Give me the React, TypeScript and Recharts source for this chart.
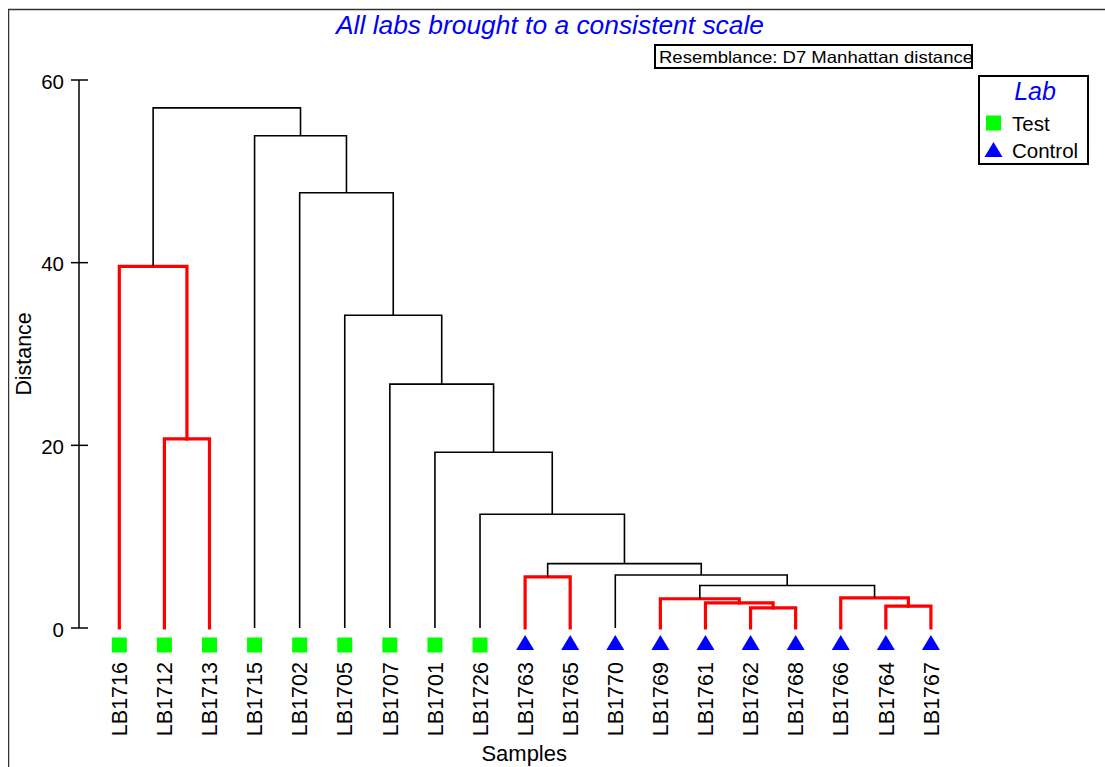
import React from 'react';
import { ComposedChart, Line, XAxis, YAxis, Legend } from 'recharts';

// ---- data ----
const leafLabels = ['LB1716', 'LB1712', 'LB1713', 'LB1715', 'LB1702', 'LB1705', 'LB1707', 'LB1701', 'LB1726', 'LB1763', 'LB1765', 'LB1770', 'LB1769', 'LB1761', 'LB1762', 'LB1768', 'LB1766', 'LB1764', 'LB1767'];
const leafLab = ['Test', 'Test', 'Test', 'Test', 'Test', 'Test', 'Test', 'Test', 'Test', 'Control', 'Control', 'Control', 'Control', 'Control', 'Control', 'Control', 'Control', 'Control', 'Control'];
// merges (node ids: leaves 0..18, then 19.. in merge order)
const mergeLeft = [14, 17, 13, 12, 16, 22, 9, 11, 25, 8, 7, 1, 6, 5, 0, 4, 3, 33];
const mergeRight = [15, 18, 19, 21, 20, 23, 10, 24, 26, 27, 28, 2, 29, 31, 30, 32, 34, 35];
const mergeHeight = [2.2, 2.4, 2.75, 3.2, 3.3, 4.65, 5.6, 5.8, 7.05, 12.45, 19.25, 20.7, 26.7, 34.25, 39.6, 47.65, 53.9, 56.95];
const mergeNotSignificant = [true, true, true, true, true, false, true, false, false, false, false, true, false, false, true, false, false, false];
const yTicks = [0, 20, 40, 60];
const legendLabels = ['Test', 'Control'];
const titleText = 'All labs brought to a consistent scale';
const resemblanceText = 'Resemblance: D7 Manhattan distance';

// ---- derived tree geometry (in data units) ----
const nodeX: number[] = leafLabels.map((_, i) => i);
const nodeH: number[] = leafLabels.map(() => 0);
mergeLeft.forEach((l, k) => {
  const r = mergeRight[k];
  nodeX.push((nodeX[l] + nodeX[r]) / 2);
  nodeH.push(mergeHeight[k]);
});
const links = mergeLeft.map((l, k) => {
  const r = mergeRight[k];
  const h = mergeHeight[k];
  return {
    id: k,
    red: mergeNotSignificant[k],
    data: [
      { x: nodeX[l], y: nodeH[l] },
      { x: nodeX[l], y: h },
      { x: nodeX[r], y: h },
      { x: nodeX[r], y: nodeH[r] },
    ],
  };
});
const leafTicks = leafLabels.map((_, i) => i);

const FONT = '"Liberation Sans", Arial, sans-serif';

const Marker = ({ cx, cy, lab }: { cx: number; cy: number; lab: string }) => {
  if (lab === 'Test') {
    return <rect x={cx - 7.5} y={cy - 7.5} width={15} height={15} fill="#00ff00" />;
  }
  return <polygon points={`${cx},${cy - 7.5} ${cx + 9},${cy + 7.5} ${cx - 9},${cy + 7.5}`} fill="#0000ff" />;
};

const renderLeafTick = (props: any) => {
  const { x, y, payload } = props;
  const i = payload.value as number;
  const lab = leafLab[i];
  return (
    <g>
      <Marker cx={x} cy={lab === 'Test' ? y + 17 : y + 14.5} lab={lab} />
      <text
        transform={`translate(${x + 7.7},${y + 34}) rotate(-90)`}
        textAnchor="end"
        fontFamily={FONT}
        fontSize={21.5}
        fill="#000"
      >
        {leafLabels[i]}
      </text>
    </g>
  );
};

const renderYTick = (props: any) => {
  const { x, y, payload } = props;
  return (
    <g>
      <line x1={x + 15} x2={x + 24} y1={y} y2={y} stroke="#000" strokeWidth={1.5} />
      <text x={x} y={y + 8.5} textAnchor="end" fontFamily={FONT} fontSize={20.5} fill="#000">
        {payload.value}
      </text>
    </g>
  );
};

const renderDistance = (props: any) => {
  const vb = props.viewBox || { x: 0, y: 0, width: 0, height: 0 };
  const cx = vb.x + 15;
  const cy = vb.y + vb.height / 2;
  return (
    <text
      transform={`translate(${cx + 7.5},${cy}) rotate(-90)`}
      textAnchor="middle"
      fontFamily={FONT}
      fontSize={21.4}
      fill="#000"
    >
      Distance
    </text>
  );
};

const renderSamples = (props: any) => {
  const vb = props.viewBox || { x: 0, y: 0, width: 0, height: 0 };
  return (
    <text x={vb.x + vb.width / 2 + 4.7} y={vb.y + 133} textAnchor="middle" fontFamily={FONT} fontSize={22} fill="#000">
      Samples
    </text>
  );
};

const LegendBox = () => (
  <svg width={111} height={90} style={{ display: 'block', overflow: 'visible' }}>
    <rect x={1} y={1} width={109} height={88} fill="#fff" stroke="#000" strokeWidth={2} />
    <text x={57} y={25} textAnchor="middle" fontFamily={FONT} fontSize={25} fontStyle="italic" fill="#0000ff">
      Lab
    </text>
    {legendLabels.map((name, k) => (
      <g key={name}>
        <Marker cx={15.5} cy={k === 0 ? 48 : 74.5} lab={name} />
        <text x={34} y={k === 0 ? 56 : 82.5} fontFamily={FONT} fontSize={20.5} fill="#000">
          {name}
        </text>
      </g>
    ))}
  </svg>
);

export default function App() {
  return (
    <div
      style={{
        position: 'fixed',
        left: 8,
        top: 8,
        width: 1097,
        height: 759,
        overflow: 'hidden',
        background: '#fff',
        fontFamily: FONT,
      }}
    >
      <svg
        width={1097}
        height={759}
        style={{ position: 'absolute', left: 0, top: 0, pointerEvents: 'none' }}
      >
        <line x1={0.6} y1={1.5} x2={0.6} y2={759} stroke="#333" strokeWidth={1.3} />
        <line x1={0} y1={1.5} x2={1097} y2={1.5} stroke="#333" strokeWidth={1.3} />
        <text
          x={542}
          y={26}
          textAnchor="middle"
          fontFamily={FONT}
          fontSize={25}
          fontStyle="italic"
          fill="#0000ff"
          textLength={428}
          lengthAdjust="spacingAndGlyphs"
        >
          {titleText}
        </text>
        <rect x={647} y={37} width={317} height={23} fill="none" stroke="#000" strokeWidth={2} />
        <text
          x={651}
          y={55.3}
          fontFamily={FONT}
          fontSize={16.5}
          fill="#000"
          textLength={314}
          lengthAdjust="spacingAndGlyphs"
        >
          {resemblanceText}
        </text>
      </svg>
      <div style={{ position: 'absolute', left: 0, top: 0 }}>
        <ComposedChart width={1097} height={759} margin={{ top: 72, right: 145, left: 0, bottom: 0 }}>
          <XAxis
            dataKey="x"
            type="number"
            domain={[-0.894, 18.645]}
            ticks={leafTicks}
            interval={0}
            axisLine={false}
            tickLine={false}
            tickSize={0}
            tickMargin={0}
            height={139}
            tick={renderLeafTick}
            label={renderSamples}
          />
          <YAxis
            type="number"
            domain={[0, 60]}
            ticks={yTicks}
            interval={0}
            width={71}
            tickSize={8}
            tickMargin={7}
            axisLine={{ stroke: '#000', strokeWidth: 1.5 }}
            tickLine={{ stroke: '#000', strokeWidth: 1.5 }}
            tick={renderYTick}
            label={renderDistance}
          />
          <Legend
            layout="vertical"
            align="center"
            verticalAlign="middle"
            content={() => <LegendBox />}
            wrapperStyle={{ left: 970, top: 67, width: 111, height: 90 }}
          />
          {links.map((lk) => (
            <Line
              key={lk.id}
              data={lk.data}
              dataKey="y"
              type="linear"
              stroke={lk.red ? '#ff0000' : '#000000'}
              strokeWidth={lk.red ? 3.2 : 1.6}
              strokeLinecap={lk.red ? 'square' : 'butt'}
              dot={false}
              activeDot={false}
              legendType="none"
              isAnimationActive={false}
            />
          ))}
        </ComposedChart>
      </div>
    </div>
  );
}
